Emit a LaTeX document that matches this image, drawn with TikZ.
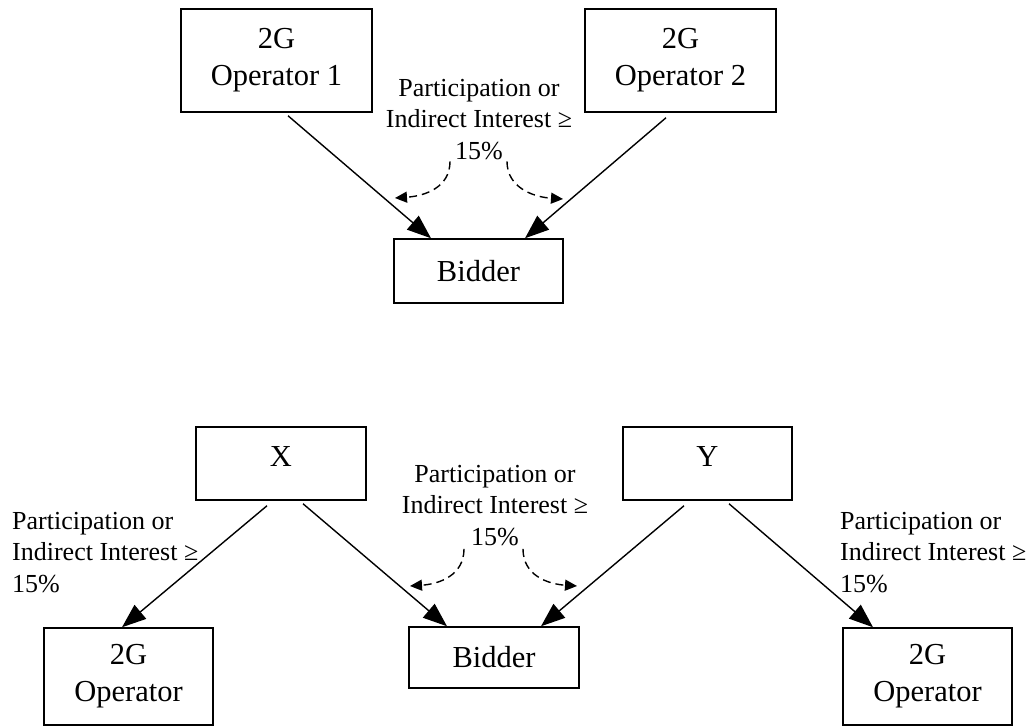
\documentclass[tikz,border=0pt]{standalone}
\usepackage{fontspec}
\setmainfont{Liberation Serif}
\usetikzlibrary{arrows.meta}

\begin{document}
\begin{tikzpicture}[x=1pt,y=-1pt,
    box/.style={draw, line width=1.5pt, inner sep=0pt, align=center, font=\fontsize{30.5}{37}\selectfont},
    lbl/.style={inner sep=0pt, font=\fontsize{26}{31.5}\selectfont},
    link/.style={line width=1.4pt, -{Triangle[length=24pt,width=18pt]}},
    hint/.style={line width=1.4pt, dash pattern=on 8pt off 5pt, -{Triangle[length=12pt,width=11pt]}}]
    \useasboundingbox (0,0) rectangle (1036,727);
    \node[box, minimum width=191, minimum height=103] (opA) at (276.5,60.5) {2G\\Operator 1};
    \node[box, minimum width=191, minimum height=103] (opB) at (680.5,60.5) {2G\\Operator 2};
    \node[box, minimum width=169, minimum height=64] (bidA) at (478.5,271) {Bidder};
    \node[lbl, align=center, anchor=north] (ruleA) at (479,79) {Participation or\\Indirect Interest ≥\\15\%};
    \coordinate (tipA1) at (395,198);
    \coordinate (tipA2) at (563,199);
    \draw[link] ([xshift=11.5pt,yshift=-3pt]opA.south) -- ([xshift=-47.5pt]bidA.north);
    \draw[link] ([xshift=-14.5pt,yshift=-5pt]opB.south) -- ([xshift=46.5pt]bidA.north);
    \draw[hint] ([xshift=-29pt,yshift=-1.5pt]ruleA.south) .. controls +(0,26) and +(30,-2) .. (tipA1);
    \draw[hint] ([xshift=28pt,yshift=-1.5pt]ruleA.south) .. controls +(0,26) and +(-30,-2) .. (tipA2);

    \node[box, minimum width=170, minimum height=73, text depth=13pt] (x) at (281,463.5) {X};
    \node[box, minimum width=169, minimum height=73, text depth=13pt] (y) at (707.5,463.5) {Y};
    \node[box, minimum width=170, minimum height=61] (bidB) at (494,657.5) {Bidder};
    \node[box, minimum width=169, minimum height=97] (opL) at (128.5,676.5) {2G\\Operator};
    \node[box, minimum width=169, minimum height=97] (opR) at (927.5,676.5) {2G\\Operator};
    \node[lbl, align=center, anchor=north] (ruleB) at (495,465) {Participation or\\Indirect Interest ≥\\15\%};
    \node[lbl, align=left, anchor=north west] (ruleL) at (12,512) {Participation or\\Indirect Interest ≥\\15\%};
    \node[lbl, align=left, anchor=north west] (ruleR) at (840,512) {Participation or\\Indirect Interest ≥\\15\%};
    \coordinate (tipB1) at (410,586);
    \coordinate (tipB2) at (577,586);
    \draw[link] ([xshift=-14pt,yshift=-5pt]x.south) -- ([xshift=-6.5pt]opL.north);
    \draw[link] ([xshift=22pt,yshift=-3pt]x.south) -- ([xshift=-47pt]bidB.north);
    \draw[link] ([xshift=-23.5pt,yshift=-5pt]y.south) -- ([xshift=47pt]bidB.north);
    \draw[link] ([xshift=21.5pt,yshift=-3pt]y.south) -- ([xshift=-54.5pt]opR.north);
    \draw[hint] ([xshift=-31pt,yshift=-3pt]ruleB.south) .. controls +(0,26) and +(30,-2) .. (tipB1);
    \draw[hint] ([xshift=28pt,yshift=-3pt]ruleB.south) .. controls +(0,26) and +(-30,-2) .. (tipB2);
\end{tikzpicture}
\end{document}
